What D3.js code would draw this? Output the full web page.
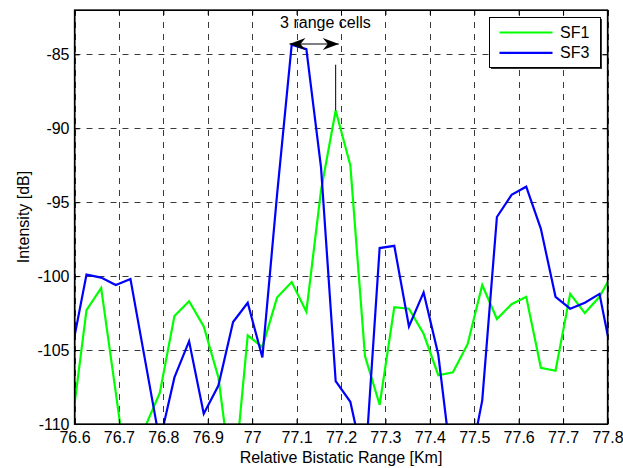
<!DOCTYPE html>
<html>
<head>
<meta charset="utf-8">
<script src="https://cdn.jsdelivr.net/npm/d3@7"></script>
<style>
  body { margin: 0; background: #fff; }
  text { font-family: "Liberation Sans", Arial, sans-serif; fill: #000; }
</style>
</head>
<body>
<div id="chart"></div>
<script>
const w = 623;
const h = 468;
const margin = {top: 10, right: 15.5, bottom: 44, left: 74.5};
const fontSize = "16px";

// relative bistatic range samples [Km]
const range = [76.594, 76.627, 76.660, 76.693, 76.726, 76.759, 76.792, 76.825, 76.858, 76.891,
               76.924, 76.957, 76.990, 77.023, 77.056, 77.089, 77.122, 77.155, 77.188, 77.221,
               77.254, 77.287, 77.320, 77.353, 77.386, 77.419, 77.452, 77.485, 77.518, 77.551,
               77.584, 77.617, 77.650, 77.683, 77.716, 77.749, 77.782, 77.815];
// intensity [dB]
const sf1 = [-110.1, -102.3, -100.8, -107.9, -115.0, -110.2, -107.9, -102.7, -101.7, -103.4,
             -106.85, -114.5, -104.0, -104.8, -101.45, -100.4, -102.4, -94.2, -88.8, -92.5,
             -105.4, -108.7, -102.1, -102.2, -103.9, -106.7, -106.5, -104.6, -100.6, -102.9,
             -101.9, -101.4, -106.2, -106.4, -101.2, -102.5, -101.4, -99.6];
const sf3 = [-105.0, -99.9, -100.1, -100.6, -100.2, -105.7, -111.2, -106.85, -104.4, -109.3,
             -107.4, -103.1, -101.8, -105.5, -94.5, -84.35, -84.65, -92.65, -107.1, -108.5,
             -113.0, -98.1, -97.95, -103.4, -101.1, -105.3, -113.5, -113.5, -108.4, -96.0,
             -94.5, -93.95, -96.8, -101.4, -102.2, -101.8, -101.2, -106.2];

const seriesNames = ["SF1", "SF3"];
const seriesColors = ["#00ff00", "#0000ff"];

const xTicks = [76.6, 76.7, 76.8, 76.9, 77, 77.1, 77.2, 77.3, 77.4, 77.5, 77.6, 77.7, 77.8];
const xTickLabels = ["76.6", "76.7", "76.8", "76.9", "77", "77.1", "77.2", "77.3", "77.4", "77.5", "77.6", "77.7", "77.8"];
const yTicks = [-110, -105, -100, -95, -90, -85];
const yTickLabels = ["-110", "-105", "-100", "-95", "-90", "-85"];

// annotation: "3 range cells"
const arrowX = [77.084, 77.195];
const arrowY = -84.3;
const markX = 77.188;
const markY = [-88.8, -85.7];
const noteText = "3 range cells";
const noteX = 77.165;
const noteY = -83.2;

const xScale = d3.scaleLinear().domain([76.6, 77.8]).range([margin.left, w - margin.right]);
const yScale = d3.scaleLinear().domain([-110, -82]).range([h - margin.bottom, margin.top]);

const svg = d3.select("#chart").append("svg")
  .attr("width", w)
  .attr("height", h);

svg.append("clipPath")
  .attr("id", "plot-area")
  .append("rect")
  .attr("x", margin.left)
  .attr("y", margin.top)
  .attr("width", w - margin.left - margin.right)
  .attr("height", h - margin.top - margin.bottom);

// grid
const grid = svg.append("g")
  .attr("stroke", "#3a3a3a")
  .attr("stroke-width", 1)
  .attr("stroke-dasharray", "6,6");
grid.selectAll(".gx").data(xTicks).join("line")
  .attr("x1", d => Math.round(xScale(d)) + 0.5)
  .attr("x2", d => Math.round(xScale(d)) + 0.5)
  .attr("y1", margin.top)
  .attr("y2", h - margin.bottom);
grid.selectAll(".gy").data(yTicks).join("line")
  .attr("y1", d => Math.round(yScale(d)) + 0.5)
  .attr("y2", d => Math.round(yScale(d)) + 0.5)
  .attr("x1", margin.left)
  .attr("x2", w - margin.right);

// data lines
const line = d3.line()
  .x((d, i) => xScale(range[i]))
  .y(d => yScale(d));

svg.append("g")
  .attr("clip-path", "url(#plot-area)")
  .selectAll("path")
  .data([sf1, sf3])
  .join("path")
  .attr("fill", "none")
  .attr("stroke", (d, i) => seriesColors[i])
  .attr("stroke-width", 2.2)
  .attr("stroke-linejoin", "miter")
  .attr("d", line);

// axes, MATLAB style ticks pointing inside
const xAxis = d3.axisBottom(xScale)
  .tickValues(xTicks)
  .tickFormat((d, i) => xTickLabels[i])
  .tickSizeInner(-5)
  .tickSizeOuter(0)
  .tickPadding(8);
const yAxis = d3.axisLeft(yScale)
  .tickValues(yTicks)
  .tickFormat((d, i) => yTickLabels[i])
  .tickSizeInner(-5)
  .tickSizeOuter(0)
  .tickPadding(5);

svg.append("g")
  .attr("transform", "translate(0," + (h - margin.bottom) + ")")
  .call(xAxis);
svg.append("g")
  .attr("transform", "translate(" + margin.left + ",0)")
  .call(yAxis);
svg.append("g")
  .attr("transform", "translate(0," + margin.top + ")")
  .call(d3.axisTop(xScale).tickValues(xTicks).tickFormat("").tickSizeInner(-5).tickSizeOuter(0));
svg.append("g")
  .attr("transform", "translate(" + (w - margin.right) + ",0)")
  .call(d3.axisRight(yScale).tickValues(yTicks).tickFormat("").tickSizeInner(-5).tickSizeOuter(0));

svg.selectAll(".tick text")
  .style("font-size", fontSize)
  .style("font-family", "'Liberation Sans', Arial, sans-serif");
svg.selectAll(".domain, .tick line").attr("stroke", "#000");

// box
svg.append("rect")
  .attr("x", margin.left)
  .attr("y", margin.top)
  .attr("width", w - margin.left - margin.right)
  .attr("height", h - margin.top - margin.bottom)
  .attr("fill", "none")
  .attr("stroke", "#000")
  .attr("stroke-width", 1.3);

// axis titles
svg.append("text")
  .attr("x", (margin.left + w - margin.right) / 2)
  .attr("y", 463)
  .attr("text-anchor", "middle")
  .style("font-size", fontSize)
  .text("Relative Bistatic Range [Km]");
svg.append("text")
  .attr("transform", "translate(29," + ((margin.top + h - margin.bottom) / 2) + ") rotate(-90)")
  .attr("text-anchor", "middle")
  .style("font-size", fontSize)
  .text("Intensity [dB]");

// annotation
const ann = svg.append("g");
ann.append("line")
  .attr("x1", xScale(arrowX[0]))
  .attr("x2", xScale(arrowX[1]))
  .attr("y1", yScale(arrowY))
  .attr("y2", yScale(arrowY))
  .attr("stroke", "#000")
  .attr("stroke-width", 1);
const head = "M0,0 L-16,-6 L-11,0 L-16,6 Z";
ann.append("path")
  .attr("d", head)
  .attr("transform", "translate(" + xScale(arrowX[1]) + "," + yScale(arrowY) + ")");
ann.append("path")
  .attr("d", head)
  .attr("transform", "translate(" + xScale(arrowX[0]) + "," + yScale(arrowY) + ") rotate(180)");
ann.append("line")
  .attr("x1", xScale(markX))
  .attr("x2", xScale(markX))
  .attr("y1", yScale(markY[0]))
  .attr("y2", yScale(markY[1]))
  .attr("stroke", "#000")
  .attr("stroke-width", 1);
ann.append("text")
  .attr("x", xScale(noteX))
  .attr("y", yScale(noteY))
  .attr("text-anchor", "middle")
  .style("font-size", fontSize)
  .text(noteText);

// legend
const legend = svg.append("g").attr("transform", "translate(489.5,17.5)");
legend.append("rect")
  .attr("x", 1.5).attr("y", 1.5)
  .attr("width", 111).attr("height", 50)
  .attr("fill", "#333");
legend.append("rect")
  .attr("width", 111).attr("height", 50)
  .attr("fill", "#fff")
  .attr("stroke", "#000")
  .attr("stroke-width", 1);
const items = legend.selectAll(".item").data(seriesNames).join("g")
  .attr("transform", (d, i) => "translate(0," + (15 + i * 20.3) + ")");
items.append("line")
  .attr("x1", 10).attr("x2", 63)
  .attr("stroke", (d, i) => seriesColors[i])
  .attr("stroke-width", 2.2);
items.append("text")
  .attr("x", 70.5)
  .attr("y", 5.5)
  .style("font-size", fontSize)
  .text(d => d);
</script>
</body>
</html>
